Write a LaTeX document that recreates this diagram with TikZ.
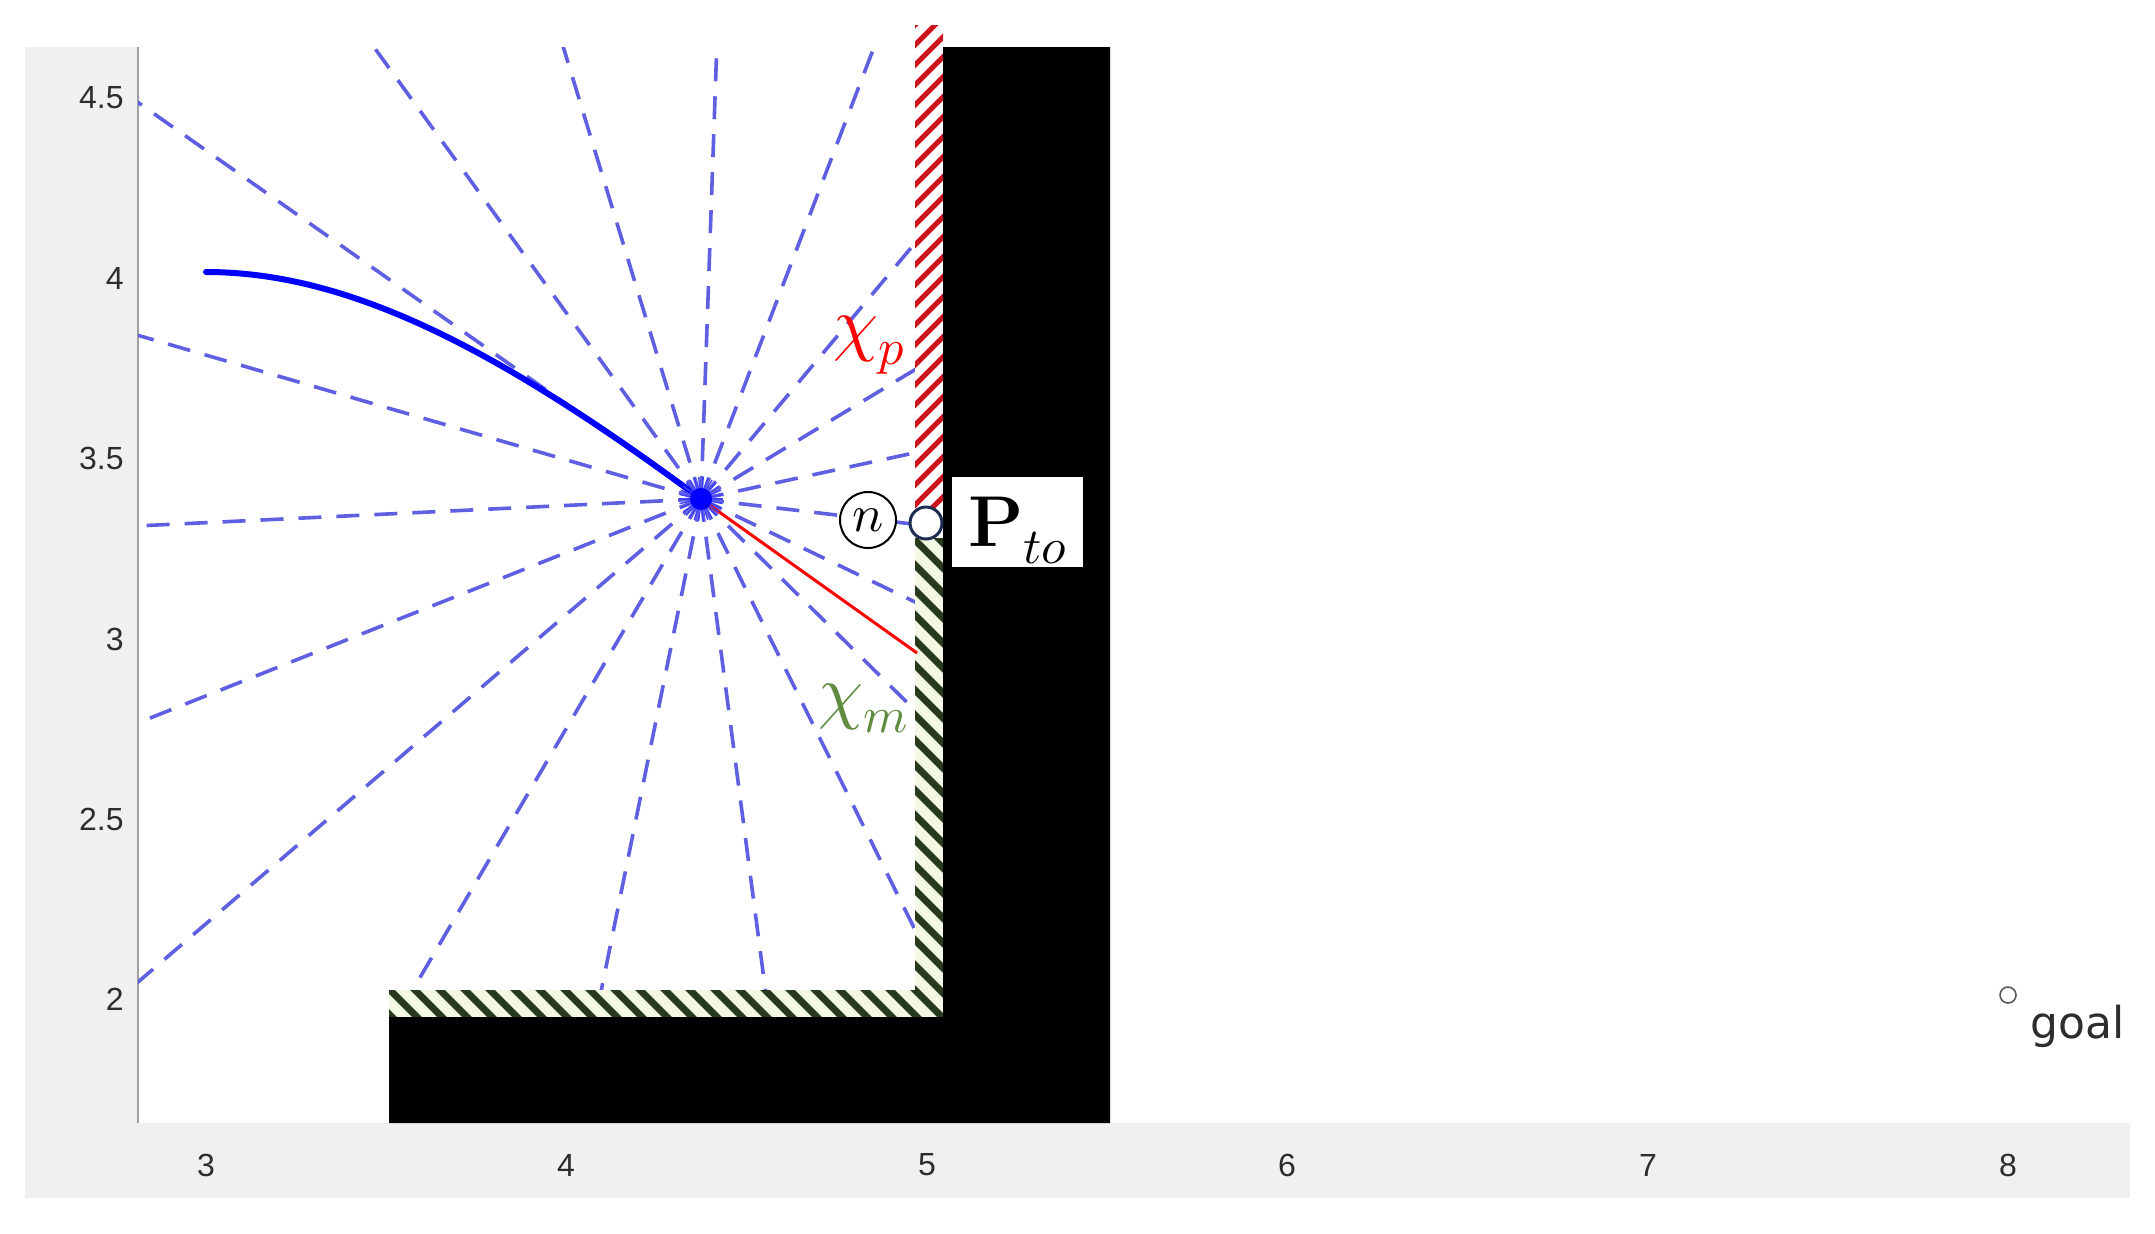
\documentclass[tikz,border=0pt]{standalone}
\usepackage{fontspec}
\usepackage{unicode-math}
\setmathfont{Latin Modern Math}
\newfontfamily\ticksfont{Liberation Sans}
\newfontfamily\goalfont{DejaVu Sans}
\definecolor{raycol}{RGB}{95,95,225}
\definecolor{framegray}{RGB}{240,240,240}
\definecolor{axisgray}{RGB}{160,160,160}
\definecolor{labgray}{RGB}{45,45,45}
\definecolor{hatchgreen}{RGB}{40,58,30}
\definecolor{hatchbg}{RGB}{242,248,228}
\definecolor{chimgreen}{RGB}{96,140,64}
\definecolor{hatchred}{RGB}{205,20,30}
\definecolor{ptoring}{RGB}{30,45,80}
\definecolor{goalgray}{RGB}{90,90,90}
\begin{document}
\begin{tikzpicture}[x=0.5pt,y=-0.5pt,
  ray/.style={raycol, line width=1.8pt, dash pattern=on 11.5pt off 7.5pt},
  ticklab/.style={font={\ticksfont\fontsize{16}{18}\selectfont}, text=labgray, inner sep=0pt},
  biglab/.style={font={\fontsize{36}{40}\selectfont}, inner sep=0pt, anchor=base west}]
\useasboundingbox (0,0) rectangle (2155,1233);
\fill[white] (0,0) rectangle (2155,1233);
% frame
\fill[framegray] (25,47) rectangle (2130,1198);
\fill[white] (138,47) rectangle (2130,1123);
\draw[axisgray, line width=1pt] (138,47) -- (138,1123);
% robot
\coordinate (R) at (701,499);
% rays
\begin{scope}
\clip (138,47) rectangle (915,990);
\foreach \k in {0,...,18} \draw[ray] (R) -- ++({-(88+\k*18.947)}:1800);
\end{scope}
% red hatch
\begin{scope}
\clip (915,25) rectangle (943,508);
\fill[white] (915,25) rectangle (943,508);
\foreach \c in {900,920,...,1500} \draw[hatchred, line width=2.6pt] (880,\c-880) -- (980,\c-980);
\end{scope}
% green hatch
\begin{scope}
\clip (915,538) rectangle (943,1017) (389,990) rectangle (943,1017);
\fill[hatchbg] (915,538) rectangle (943,1017) (389,990) rectangle (943,1017);
\foreach \c in {-675,-650,...,450} \draw[hatchgreen, line width=3.5pt] (\c+480,480) -- (\c+1060,1060);
\end{scope}
% obstacle
\fill[black] (943,47) -- (1110,47) -- (1110,1123) -- (389,1123) -- (389,1017) -- (943,1017) -- cycle;
% trajectory
\coordinate (start) at (206,272);
\draw[blue, line width=3pt, line cap=round] (start) .. controls (350,272) and (500,350) .. (R);
% red line
\coordinate (redend) at (917,653);
\draw[red, line width=1.5pt] (R) -- (redend);
% robot starburst
\foreach \a in {0,12,...,348} \draw[blue!75, line width=0.7pt] (R) -- ++(\a:22);
\fill[blue] (R) circle[radius=11];
% markers
\node[circle, draw=black, fill=white, line width=1pt, minimum size=28pt, inner sep=0pt] (nmark) at (868,520) {\fontsize{26}{28}\selectfont$n$};
\node[circle, draw=ptoring, fill=white, line width=1.5pt, minimum size=16pt, inner sep=0pt] (pto) at (926,523) {};
\node[fill=white, minimum width=65.5pt, minimum height=45pt, inner sep=0pt] (ptobox) at (1017.5,522) {};
\node[biglab] (ptotext) at (968,546) {$\mathbf{P}_{to}$};
\node[biglab, text=red] (chip) at (833,347) {$\chi_p$};
\node[biglab, text=chimgreen] (chim) at (818,715) {$\chi_m$};
% goal
\node[circle, draw=goalgray, line width=0.8pt, minimum size=8pt, inner sep=0pt] (goal) at (2008,995) {};
\node[anchor=base west, inner sep=0pt, text=labgray, font={\goalfont\fontsize{22}{24}\selectfont}] (goaltext) at (2030,1038) {goal};
% ticks
\node[ticklab, anchor=east] (y45) at (124,98) {4.5};
\node[ticklab, anchor=east] (y40) at (124,278) {4};
\node[ticklab, anchor=east] (y35) at (124,458) {3.5};
\node[ticklab, anchor=east] (y30) at (124,639) {3};
\node[ticklab, anchor=east] (y25) at (124,819) {2.5};
\node[ticklab, anchor=east] (y20) at (124,999) {2};
\node[ticklab] (x3) at (206,1165) {3};
\node[ticklab] (x4) at (566,1165) {4};
\node[ticklab] (x5) at (927,1165) {5};
\node[ticklab] (x6) at (1287,1165) {6};
\node[ticklab] (x7) at (1648,1165) {7};
\node[ticklab] (x8) at (2008,1165) {8};
\end{tikzpicture}
\end{document}
